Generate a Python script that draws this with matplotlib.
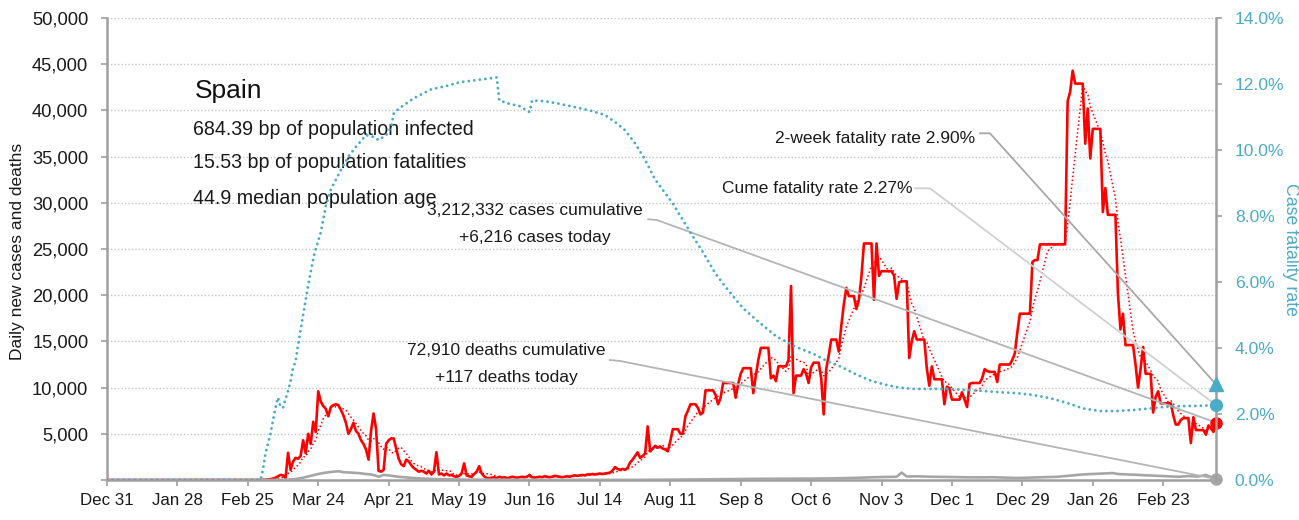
import numpy as np
import pandas as pd
import matplotlib
matplotlib.use('Agg')
import matplotlib.pyplot as plt
import matplotlib.dates as mdates
from matplotlib.ticker import FuncFormatter

plt.rcParams['font.family'] = ['Liberation Sans', 'DejaVu Sans']

START = np.datetime64('2019-12-31')

# daily new cases, one value per day starting Dec 31, 2019
cases = [0] * 61 + [
    10, 20, 30, 60, 100, 150, 250, 400, 550, 500, 200,
    2950, 1100, 2000, 2400, 2300, 2600, 4300, 2900, 5000, 3900,
    6300, 5200, 9600, 8500, 8000, 7700, 6900, 7900, 8100, 8200,
    8100, 7600, 7000, 6200, 5000, 5500, 6200, 5300, 5000, 4300,
    3900, 3300, 2200, 5300, 7200, 5500, 1000, 900, 1100, 3900,
    4300, 4500, 4500, 3400, 2300, 1700, 1500, 2200, 2000, 1600,
    1300, 1100, 900, 1000, 900, 700, 1000, 600, 900, 3000,
    600, 700, 500, 700, 500, 550, 400, 350, 450, 700,
    1800, 500, 400, 350, 650, 900, 1500, 700, 400, 200,
    200,
    250, 300, 200, 350, 250, 300, 200, 250, 350, 300,
    250, 300, 350, 300, 350, 550, 300, 250, 300, 350,
    300, 400, 350, 300, 350, 450, 400, 350, 300, 350,
    400, 350, 450, 500, 450, 500, 550, 500, 600, 600,
    650, 600, 650, 700, 650, 700, 750, 800, 1000, 1400,
    1200, 1100, 1200, 1100, 1300, 1900, 2200, 2600, 3000, 2400,
    2600, 2900, 5800, 3100, 3400, 3700, 3500, 3600, 3400, 3300,
    3100, 4200, 5500, 5500, 5500, 5000, 5000,
    6900, 7500, 8200, 8200, 8200, 7800, 7100, 7300, 9700, 9700,
    9700, 9700, 9200, 8200, 8900, 10500, 10500, 10500, 10500, 10500,
    8900, 10400, 11500, 12100, 12100, 12100, 12100, 9400, 11300, 13000,
    14300, 14300, 14300, 14300, 11000, 11300, 10700, 12300, 12300, 12300,
    12300, 13000, 21000, 9400, 11300, 11300, 11300, 12000, 11500, 10500,
    12200, 12700, 12700, 12700, 11000, 7100, 12000, 13500, 15200, 15200,
    15200, 13900, 16700, 19000, 20800, 19900, 19900, 19900, 18500, 19500,
    22000, 25600, 25600, 25600, 25600, 19500, 25600, 22100, 22600, 22600,
    22600, 22600, 22600, 22100, 19600, 21400, 21500, 21500, 21500, 13200,
    15000, 16100, 15200, 15200, 15200, 15200, 12100, 10200, 12300, 10900,
    10900, 10900, 10900, 8200, 10100, 9900, 8700, 8700, 8700, 8700,
    9500, 8700, 7900, 10400, 10500, 10500, 10500, 10500, 11000, 12000,
    11800, 11700, 11700, 11700, 10600, 12500, 12500, 12500, 12500, 12500,
    13000, 13700, 16000, 18000, 18000, 18000, 18000, 18000, 23600, 23800,
    23800, 25500, 25500, 25500, 25500, 25500, 25500, 25500, 25500, 25500,
    25500, 25500, 41000, 42000, 44300, 42900, 42900, 42900, 42900, 36400,
    40200, 34800, 38000, 38000, 38000, 38000, 29000, 31600, 28700, 28700,
    28700, 28700, 20200, 16300, 18000, 14600, 14600, 14600, 14600, 12500,
    10000, 12000, 14400, 11500, 11500, 11500, 7300, 9000, 9600, 8300,
    8300, 8300, 8300, 8300, 7000, 6000, 6000, 6500, 6700, 6700,
    6700, 4000, 6800, 5400, 5400, 5400, 5400, 4900, 5900, 5600,
    5200, 6216,
]

# daily deaths (day offset from START, deaths)
death_day = [0, 60, 70, 75, 78, 81, 84, 87, 90, 92, 94, 97, 100, 103, 105, 107,
             108, 110, 112, 114, 116, 118, 120, 123, 126, 130, 135, 140, 150, 170,
             200, 215, 225, 235, 242, 250, 256, 262, 270, 280, 290, 300, 305, 310,
             314, 316, 318, 322, 328, 334, 340, 346, 352, 358, 362, 366, 372, 378,
             384, 388, 392, 396, 400, 402, 406, 410, 414, 418, 422, 426, 430, 434,
             437, 439, 441]
deaths = [0, 0, 20, 100, 250, 450, 650, 800, 900, 950, 850, 800, 750, 650, 600, 450,
          350, 550, 500, 420, 350, 300, 250, 200, 150, 100, 80, 50, 30, 20,
          10, 20, 40, 60, 80, 100, 120, 130, 140, 150, 180, 250, 300, 330,
          350, 800, 380, 400, 350, 330, 300, 280, 300, 250, 220, 250, 300, 350,
          500, 600, 650, 700, 750, 650, 600, 550, 500, 450, 400, 350, 420, 380,
          550, 300, 117]

# cumulative case fatality rate, percent
cfr_day = [0, 61, 62, 63, 64, 65, 66, 67, 68, 69, 70, 71, 72, 73, 74, 75, 76, 78, 80,
           82, 83, 85, 87, 89, 91, 93, 96, 99, 103, 106, 108, 111, 113, 114, 116,
           122, 129, 135, 140, 145, 150, 155, 156, 160, 164, 168, 169, 174, 180,
           186, 192, 198, 202, 206, 210, 214, 218, 225, 232, 237, 242, 247, 253,
           259, 266, 274, 281, 287, 292, 297, 304, 310, 315, 321, 335, 348, 355,
           362, 368, 375, 382, 388, 395, 401, 408, 415, 421, 428, 435, 441]
cfr_pct = [0, 0, 0.3, 0.8, 1.1, 1.4, 1.8, 2.2, 2.5, 2.2, 2.2, 2.45, 2.7, 3.0, 3.4, 3.6,
           4.1, 5.0, 5.9, 6.7, 7.0, 7.5, 8.3, 8.8, 9.1, 9.4, 9.8, 10.1, 10.45, 10.4,
           10.3, 10.45, 10.7, 11.1, 11.25, 11.57, 11.84, 11.94, 12.05, 12.1, 12.15,
           12.2, 11.5, 11.4, 11.33, 11.15, 11.5, 11.48, 11.4, 11.3, 11.2, 11.06,
           10.85, 10.6, 10.2, 9.7, 9.1, 8.38, 7.5, 6.9, 6.25, 5.75, 5.2, 4.8, 4.36,
           4.03, 3.82, 3.58, 3.43, 3.23, 3.0, 2.88, 2.8, 2.76, 2.76, 2.7, 2.66,
           2.63, 2.58, 2.48, 2.33, 2.17, 2.09, 2.09, 2.12, 2.17, 2.22, 2.24, 2.25,
           2.27]

two_week_rate = 2.90
cum_cases = 3212332
cum_deaths = 72910

TEAL = '#4bacc6'
RED = '#ff0000'
GRAY = '#a6a6a6'
AXIS = '#a0a0a0'
INK = '#1a1a1a'

days = START + np.arange(len(cases))
cases_avg = pd.Series(cases).rolling(7, min_periods=1).mean()
last = days[-1]

fig = plt.figure(figsize=(12.99, 5.2), dpi=100)
ax = fig.add_axes([107 / 1299, 40 / 520, 1109 / 1299, 462 / 520])
ax2 = ax.twinx()

ax.plot(days, cases, color=RED, lw=1.9, zorder=3)
ax.plot(days, cases_avg, color=RED, lw=1.1, linestyle=(0, (1, 1.6)), zorder=3)
ax.plot(START + np.array(death_day), deaths, color=GRAY, lw=1.9, zorder=3)
ax2.plot(START + np.array(cfr_day), cfr_pct, color=TEAL, lw=2.1,
         linestyle=(0, (0.01, 1.9)), dash_capstyle='round')

# end-of-series markers
ax.plot(last, cases[-1], 'o', color=RED, ms=8, clip_on=False, zorder=6)
ax.plot(last, deaths[-1], 'o', color=GRAY, ms=8, clip_on=False, zorder=6)
ax2.plot(last, cfr_pct[-1], 'o', color=TEAL, ms=8.5, clip_on=False, zorder=6)
ax2.plot(last, two_week_rate, '^', color=TEAL, ms=9.5, clip_on=False, zorder=6)

ax.set_xlim(START, last)
ax.set_ylim(0, 50000)
ax2.set_ylim(0, 14)

ax.set_yticks(np.arange(0, 50001, 5000))
ax.yaxis.set_major_formatter(FuncFormatter(lambda v, p: '' if v == 0 else f'{int(v):,}'))
ax2.set_yticks(np.arange(0, 14.1, 2))
ax2.yaxis.set_major_formatter(FuncFormatter(lambda v, p: f'{v:.1f}%'))
ax.set_xticks(START + np.arange(0, 442, 28))
ax.xaxis.set_major_formatter(mdates.DateFormatter('%b %-d'))

ax.grid(axis='y', color='#c4c4c4', linestyle=(0, (1, 1.5)), lw=1.0)
ax.set_axisbelow(True)

for a in (ax, ax2):
    a.spines['top'].set_visible(False)
    for s in ('left', 'right', 'bottom'):
        a.spines[s].set_color(AXIS)
        a.spines[s].set_linewidth(1.8)
ax.spines['right'].set_visible(False)
ax2.spines['left'].set_visible(False)
ax2.spines['bottom'].set_visible(False)

ax.tick_params(axis='y', length=4.5, width=1.2, color=AXIS, labelsize=13.2,
               labelcolor=INK, pad=9)
ax.tick_params(axis='x', length=4.5, width=1.2, color=AXIS, labelsize=12.2,
               labelcolor=INK, pad=5)
ax2.tick_params(axis='y', length=4.5, width=1.2, color=AXIS, labelsize=12.6,
                labelcolor=TEAL, pad=9)

ax.set_ylabel('Daily new cases and deaths', fontsize=12.5, color=INK)
ax.yaxis.set_label_coords(-0.0739, 0.495)
ax2.set_ylabel('Case fatality rate', fontsize=12.8, color=TEAL, rotation=270)
ax2.yaxis.set_label_coords(1.0748, 0.499)

# country summary block
ax.text(0.0794, 0.827, 'Spain', transform=ax.transAxes, fontsize=19, color='#111111')
summary = ['684.39 bp of population infected',
           '15.53 bp of population fatalities',
           '44.9 median population age']
for txt, fy in zip(summary, [0.747, 0.675, 0.597]):
    ax.text(0.0775, fy, txt, transform=ax.transAxes, fontsize=14.1, color=INK)

# callouts with leader lines to the end markers
ann = dict(transform=ax.transAxes, fontsize=12.5, color=INK)
ax.text(0.386, 0.574, f'{cum_cases:,} cases cumulative', ha='center', **ann)
ax.text(0.386, 0.516, f'+{cases[-1]:,} cases today', ha='center', **ann)
ax.text(0.360, 0.2706, f'{cum_deaths:,} deaths cumulative', ha='center', **ann)
ax.text(0.360, 0.212, f'+{deaths[-1]:,} deaths today', ha='center', **ann)
ax.text(0.7827, 0.7288, f'2-week fatality rate {two_week_rate:.2f}%', ha='right', **ann)
ax.text(0.7259, 0.622, f'Cume fatality rate {cfr_pct[-1]:.2f}%', ha='right', **ann)


def leader(start, stub, target, trans, color):
    end = ax.transAxes.inverted().transform(trans.transform(target))
    ax.plot([start[0], stub[0], end[0]], [start[1], stub[1], end[1]],
            transform=ax.transAxes, color=color, lw=1.3, clip_on=False, zorder=5)


xl = mdates.date2num(last)
leader((0.7872, 0.7504), (0.7962, 0.7504), (xl, two_week_rate), ax2.transData, '#a8a8a8')
leader((0.7286, 0.6314), (0.7421, 0.6314), (xl, cfr_pct[-1]), ax2.transData, '#d0d0d0')
leader((0.4880, 0.5643), (0.4957, 0.5628), (xl, cases[-1]), ax.transData, '#b4b4b4')
leader((0.4535, 0.2597), (0.4626, 0.2576), (xl, deaths[-1]), ax.transData, '#b4b4b4')

fig.savefig('out.png', dpi=100)
